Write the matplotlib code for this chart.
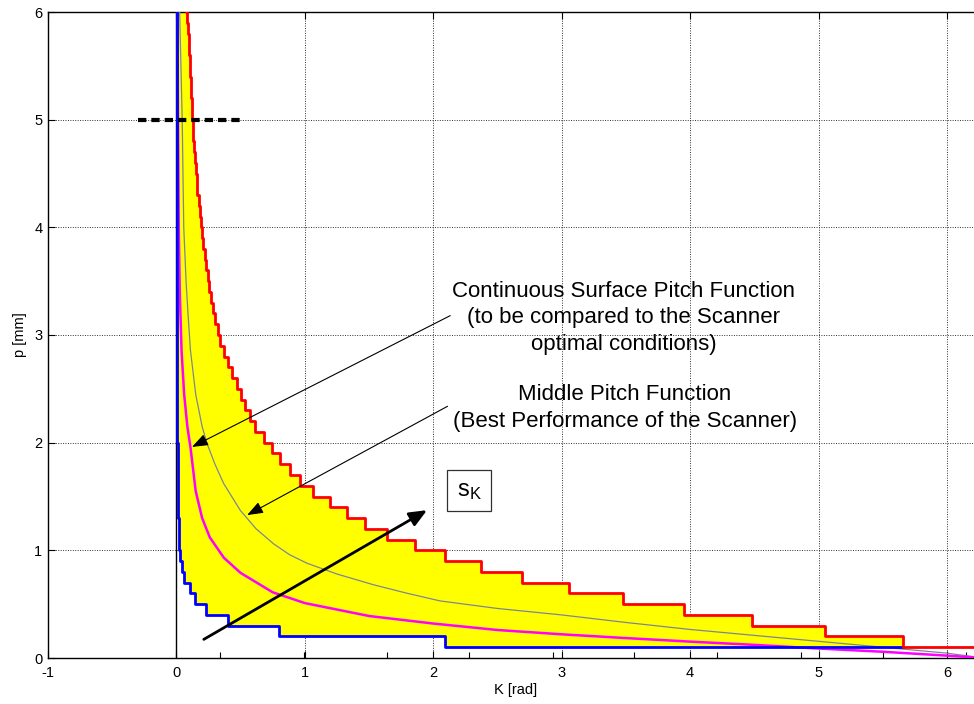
import numpy as np
import matplotlib
matplotlib.use("Agg")
import matplotlib.pyplot as plt

plt.rcParams['font.family'] = ['Liberation Sans', 'DejaVu Sans']
plt.rcParams['mathtext.fontset'] = 'custom'
plt.rcParams['mathtext.rm'] = 'Liberation Sans'
plt.rcParams['mathtext.it'] = 'Liberation Sans'
plt.rcParams['axes.unicode_minus'] = False

# ---------------- data ----------------
# upper (red) staircase: pitch levels and x where each level ends
red_levels = [6.0, 5.9, 5.8, 5.7, 5.6, 5.5, 5.4, 5.3, 5.2, 5.1,
              5.0, 4.9, 4.8, 4.7, 4.6, 4.5, 4.4, 4.3, 4.2, 4.1,
              4.0, 3.9, 3.8, 3.7, 3.6, 3.5, 3.4, 3.3, 3.2, 3.1,
              3.0, 2.9, 2.8, 2.7, 2.6, 2.5, 2.4, 2.3, 2.2, 2.1,
              2.0, 1.9, 1.8, 1.7, 1.6, 1.5, 1.4, 1.3, 1.2, 1.1,
              1.0, 0.9, 0.8, 0.7, 0.6, 0.5, 0.4, 0.3, 0.2, 0.1]
red_ends = [0.085, 0.090, 0.094, 0.098, 0.102, 0.106, 0.110, 0.114, 0.118, 0.122,
            0.127, 0.132, 0.138, 0.144, 0.150, 0.157, 0.164, 0.172, 0.180, 0.190,
            0.200, 0.210, 0.220, 0.232, 0.244, 0.256, 0.270, 0.285, 0.302, 0.320,
            0.342, 0.370, 0.400, 0.433, 0.468, 0.502, 0.537, 0.575, 0.615, 0.680,
            0.745, 0.810, 0.887, 0.965, 1.064, 1.193, 1.328, 1.471, 1.640, 1.860,
            2.093, 2.370, 2.692, 3.060, 3.478, 3.951, 4.484, 5.048, 5.654, 6.283]
red_start = 0.078

# lower (blue) staircase
blue_levels = [6.0, 4.5, 3.0, 2.0, 1.6, 1.3, 1.1, 1.0, 0.9, 0.8,
               0.7, 0.6, 0.5, 0.4, 0.3, 0.2, 0.1]
blue_ends = [0.003, 0.005, 0.007, 0.010, 0.013, 0.017, 0.023, 0.031, 0.041, 0.057,
             0.104, 0.148, 0.232, 0.405, 0.798, 2.093, 5.654]
blue_start = 0.002

# middle pitch function (magenta)
mid_x = [0.008, 0.012, 0.018, 0.026, 0.040, 0.060, 0.085, 0.110, 0.150, 0.200,
         0.260, 0.370, 0.500, 0.750, 1.000, 1.500, 2.000, 2.500, 3.000, 3.500,
         4.000, 4.500, 5.000, 5.500, 6.000, 6.283]
mid_p = [6.00, 5.00, 4.00, 3.40, 2.85, 2.45, 2.15, 1.95, 1.55, 1.30,
         1.12, 0.93, 0.79, 0.61, 0.51, 0.39, 0.32, 0.26, 0.22, 0.185,
         0.152, 0.122, 0.088, 0.058, 0.022, 0.0]

# continuous surface pitch function (grey)
cont_x = [0.025, 0.035, 0.045, 0.057, 0.075, 0.090, 0.109, 0.150, 0.200, 0.239,
          0.300, 0.368, 0.498, 0.620, 0.757, 0.880, 1.017, 1.250, 1.535, 1.800,
          2.054, 2.500, 3.000, 3.500, 4.000, 4.500, 5.000, 5.500, 6.000, 6.283]
cont_p = [6.00, 5.50, 5.00, 4.00, 3.50, 3.20, 2.86, 2.45, 2.15, 1.99,
          1.80, 1.62, 1.37, 1.20, 1.06, 0.96, 0.88, 0.78, 0.68, 0.60,
          0.53, 0.46, 0.40, 0.33, 0.265, 0.21, 0.155, 0.10, 0.045, 0.0]

dash_x = [-0.296, 0.498]
dash_p = [5.0, 5.0]

x_ticks = [-1, 0, 1, 2, 3, 4, 5, 6]
y_ticks = [0, 1, 2, 3, 4, 5, 6]
minor_x_ticks = [0.34, 0.99, 1.64, 2.28, 2.93, 3.56, 4.21, 4.86, 5.50, 6.15]

label_cont = "Continuous Surface Pitch Function\n(to be compared to the Scanner\noptimal conditions)"
label_mid = "Middle Pitch Function\n(Best Performance of the Scanner)"


def stair_path(x0, levels, ends, top=6.3):
    xs = [x0, x0]
    ys = [top, levels[0]]
    for i, (lv, e) in enumerate(zip(levels, ends)):
        xs.append(e)
        ys.append(lv)
        if i + 1 < len(levels):
            xs.append(e)
            ys.append(levels[i + 1])
    return np.array(xs), np.array(ys)


rx, ry = stair_path(red_start, red_levels, red_ends)
bx, by = stair_path(blue_start, blue_levels, blue_ends)

# ---------------- figure ----------------
fig = plt.figure(figsize=(9.74, 7.04), dpi=100)
ax = fig.add_axes([48 / 974, 46 / 704, (983.4 - 48) / 974, (658 - 12) / 704])

ax.set_xlim(-1, 2 * np.pi)
ax.set_ylim(0, 6)
ax.set_axisbelow(True)
ax.grid(True, color='#303030', linestyle=(0, (1, 1.5)), linewidth=0.7, zorder=0)

# yellow area between the staircases
poly_x = np.concatenate([rx, [bx[-1]], bx[::-1]])
poly_y = np.concatenate([ry, [by[-1]], by[::-1]])
ax.fill(poly_x, poly_y, color='#ffff00', lw=0, zorder=1)

ax.axvline(0, color='k', lw=1.0, zorder=1.5)

ax.plot(cont_x, cont_p, color='#7d8794', lw=0.9, zorder=3)
ax.plot(mid_x, mid_p, color='#ff00ff', lw=1.8, zorder=3)
ax.plot(bx, by, color='#0000ff', lw=2.0, zorder=4)
ax.plot(rx, ry, color='#ff0000', lw=2.0, zorder=5)

ax.plot(dash_x, dash_p, color='k', lw=3, dashes=(2.0, 1.2),
        solid_capstyle='butt', dash_capstyle='butt', zorder=6, clip_on=False)

# annotations
ax.text(3.48, 3.16, label_cont, ha='center', va='center', fontsize=16,
        linespacing=1.35, zorder=7)
ax.text(3.49, 2.32, label_mid, ha='center', va='center', fontsize=16,
        linespacing=1.35, zorder=7)

thin = dict(arrowstyle='-|>,head_length=0.75,head_width=0.28',
            lw=0.8, color='k', shrinkA=0, shrinkB=0, mutation_scale=13)
ax.annotate('', xy=(0.121, 1.96), xytext=(2.132, 3.18), arrowprops=thin, zorder=7)
ax.annotate('', xy=(0.55, 1.327), xytext=(2.111, 2.338), arrowprops=thin, zorder=7)
ax.annotate('', xy=(1.951, 1.373), xytext=(0.213, 0.173),
            arrowprops=dict(arrowstyle='-|>,head_length=0.7,head_width=0.3',
                            lw=2.0, color='k', shrinkA=0, shrinkB=0,
                            mutation_scale=15), zorder=7)

ax.text(2.28, 1.554, r'$\mathregular{s_K}$', ha='center', va='center', fontsize=17,
        bbox=dict(boxstyle='square,pad=0.4', fc='white', ec='#303030', lw=0.9),
        zorder=8)

# axes styling
ax.set_xticks(x_ticks)
ax.set_yticks(y_ticks)
ax.set_xticks(minor_x_ticks, minor=True)
ax.tick_params(axis='both', which='major', direction='in', length=5, width=0.8,
               labelsize=10.5, top=True, right=True)
ax.tick_params(axis='x', which='major', pad=6)
ax.tick_params(axis='y', which='major', pad=4)
ax.tick_params(axis='x', which='minor', direction='in', length=4, width=0.8,
               top=False, bottom=True)
for s in ax.spines.values():
    s.set_linewidth(1.0)

ax.set_xlabel('K [rad]', fontsize=10.5, labelpad=2)
ax.set_ylabel('p [mm]', fontsize=10.5, labelpad=5)

fig.savefig('out.png', dpi=100)
